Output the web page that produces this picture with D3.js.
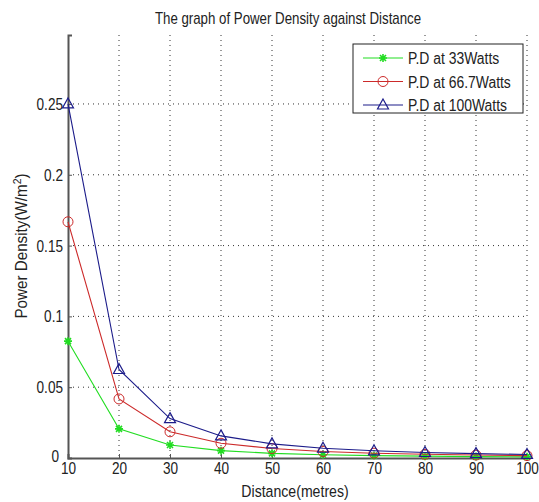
<!DOCTYPE html>
<html>
<head>
<meta charset="utf-8">
<script src="https://cdn.jsdelivr.net/npm/d3@7"></script>
<style>
  body { margin: 0; background: #fff; }
  text { font-family: "Liberation Sans", Arial, sans-serif; }
</style>
</head>
<body>
<div id="chart"></div>
<script>
const distances = [10, 20, 30, 40, 50, 60, 70, 80, 90, 100];
const pd33 = [0.0825, 0.0206, 0.0092, 0.0052, 0.0033, 0.0023, 0.0017, 0.0013, 0.0010, 0.0008];
const pd667 = [0.1668, 0.0417, 0.0185, 0.0104, 0.0067, 0.0046, 0.0034, 0.0026, 0.0021, 0.0017];
const pd100 = [0.2500, 0.0625, 0.0278, 0.0156, 0.0100, 0.0069, 0.0051, 0.0039, 0.0031, 0.0025];
const yTicks = [0, 0.05, 0.1, 0.15, 0.2, 0.25];
const xTicks = [10, 20, 30, 40, 50, 60, 70, 80, 90, 100];

const width = 539, height = 502;
const m = { t: 35, r: 12, b: 44, l: 68 };

const svg = d3.select("#chart").append("svg")
  .attr("width", width)
  .attr("height", height);

const x = d3.scaleLinear().domain([10, 100]).range([m.l, width - m.r]);
const y = d3.scaleLinear().domain([0, 0.2987]).range([height - m.b, m.t]);

// condensed-looking text: scale horizontally
function label(g, tx, ty, str, size, sx, anchor, rot) {
  return g.append("text")
    .attr("transform", `translate(${tx},${ty})${rot ? ` rotate(${rot})` : ""} scale(${sx},1)`)
    .attr("text-anchor", anchor || "middle")
    .attr("font-size", size + "px")
    .attr("fill", "#222")
    .text(str);
}

// grid
svg.append("g").selectAll("line")
  .data(xTicks.slice(1))
  .enter().append("line")
  .attr("x1", d => x(d)).attr("x2", d => x(d))
  .attr("y1", y.range()[1]).attr("y2", y.range()[0])
  .attr("stroke", "#333").attr("stroke-width", 1)
  .attr("stroke-dasharray", "1,4");

svg.append("g").selectAll("line")
  .data(yTicks.slice(1))
  .enter().append("line")
  .attr("x1", x.range()[0]).attr("x2", x.range()[1])
  .attr("y1", d => y(d)).attr("y2", d => y(d))
  .attr("stroke", "#333").attr("stroke-width", 1)
  .attr("stroke-dasharray", "1,4");

// axes
const xAxis = svg.append("g")
  .attr("transform", `translate(0,${height - m.b})`)
  .call(d3.axisBottom(x).tickValues(xTicks).tickSize(-4).tickPadding(4).tickFormat(d3.format("d")));
const yAxis = svg.append("g")
  .attr("transform", `translate(${m.l},0)`)
  .call(d3.axisLeft(y).tickValues(yTicks).tickSize(-4).tickPadding(5).tickFormat(d => String(d)));

[xAxis, yAxis].forEach(g => {
  g.select(".domain").attr("stroke", "#555").attr("stroke-width", 2);
  g.selectAll(".tick line").attr("stroke", "#555");
  g.selectAll(".tick text")
    .attr("fill", "#222")
    .attr("font-size", "17px")
    .style("font-family", "'Liberation Sans', Arial, sans-serif");
});
xAxis.selectAll(".tick text").attr("transform", "scale(0.8,1)");
// the "0" sits in the corner, pull it clear of the "10" below
yAxis.selectAll(".tick text").attr("x", 0)
  .attr("transform", d => d === 0 ? "translate(-9,-2) scale(0.8,1)" : "translate(-5,0) scale(0.8,1)");

// series
const series = [
  { label: "P.D at 33Watts", values: pd33, color: "#22dd22", marker: "star" },
  { label: "P.D at 66.7Watts", values: pd667, color: "#cc2a2a", marker: "circle" },
  { label: "P.D at 100Watts", values: pd100, color: "#1c1c8a", marker: "triangle" },
];

const line = d3.line()
  .x((d, i) => x(distances[i]))
  .y(d => y(d));

function drawMarker(g, type, color) {
  if (type === "circle") {
    g.append("circle").attr("r", 5).attr("fill", "none")
      .attr("stroke", color).attr("stroke-width", 1);
  } else if (type === "triangle") {
    g.append("path").attr("d", "M0,-6L5.5,4L-5.5,4Z").attr("fill", "none")
      .attr("stroke", color).attr("stroke-width", 1.2);
  } else {
    g.append("path").attr("d", "M-4,0L4,0M0,-4L0,4M-3,-3L3,3M-3,3L3,-3")
      .attr("stroke", color).attr("stroke-width", 1.6);
  }
}

series.forEach(s => {
  svg.append("path")
    .datum(s.values)
    .attr("fill", "none")
    .attr("stroke", s.color)
    .attr("stroke-width", 1.1)
    .attr("d", line);

  s.values.forEach((v, i) => {
    const g = svg.append("g").attr("transform", `translate(${x(distances[i])},${y(v)})`);
    drawMarker(g, s.marker, s.color);
  });
});

// title & labels
label(svg, 288, 24, "The graph of Power Density against Distance", 16, 0.83);
label(svg, 295, 497, "Distance(metres)", 17, 0.83);

const yl = label(svg, 27, 246, "", 16, 0.95, "middle", -90);
yl.append("tspan").text("Power Density(W/m");
yl.append("tspan").attr("dy", -6).attr("font-size", "11px").text("2");
yl.append("tspan").attr("dy", 6).text(")");

// legend
const lg = svg.append("g").attr("transform", "translate(353,44)");
lg.append("rect").attr("width", 170).attr("height", 69)
  .attr("fill", "#fff").attr("stroke", "#222").attr("stroke-width", 1);
series.forEach((s, i) => {
  const ry = 14 + i * 23.5;
  lg.append("line").attr("x1", 10).attr("x2", 50).attr("y1", ry).attr("y2", ry)
    .attr("stroke", s.color).attr("stroke-width", 1.1);
  const mg = lg.append("g").attr("transform", `translate(30,${ry})`);
  drawMarker(mg, s.marker, s.color);
  label(lg, 55, ry + 6, s.label, 16, 0.87, "start");
});
</script>
</body>
</html>
